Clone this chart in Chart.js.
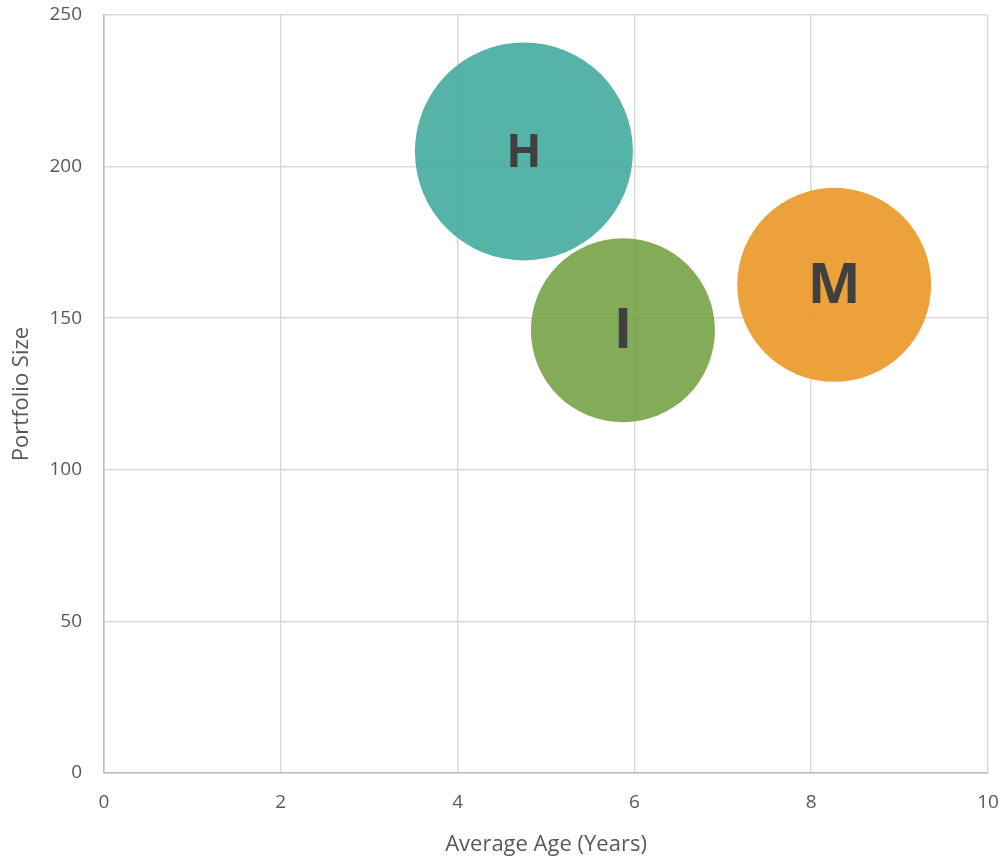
<!DOCTYPE html>
<html>
<head>
<meta charset="utf-8">
<title>Portfolio Size vs Average Age</title>
<script src="https://cdn.jsdelivr.net/npm/chart.js@4/dist/chart.umd.min.js"></script>
<style>
  html, body { margin: 0; padding: 0; background: #fff; }
  #wrap { width: 1004px; height: 858px; }
</style>
</head>
<body>
<div id="wrap"><canvas id="chart" width="1004" height="858"></canvas></div>
<script>
// portfolio groups
const names = ['H', 'I', 'M'];
const avgAge = [4.75, 5.87, 8.26];
const portfolioSize = [205, 146, 161];
const bubbleRadius = [109, 92, 97];
const colors = ['rgba(72,172,159,0.92)', 'rgba(121,164,74,0.92)', 'rgba(236,153,42,0.92)'];
const labelSizes = [46, 56, 56];

const xTicks = [0, 2, 4, 6, 8, 10];
const yTicks = [0, 50, 100, 150, 200, 250];

// write the group letter in the middle of each bubble
const bubbleLabels = {
    id: 'bubbleLabels',
    afterDatasetsDraw(chart) {
        const ctx = chart.ctx;
        chart.data.datasets.forEach((ds, i) => {
            const pt = chart.getDatasetMeta(i).data[0];
            ctx.save();
            ctx.fillStyle = '#404040';
            ctx.font = `bold ${labelSizes[i]}px "Open Sans", sans-serif`;
            ctx.textAlign = 'center';
            ctx.textBaseline = 'middle';
            ctx.fillText(names[i], pt.x, pt.y + 2);
            ctx.restore();
        });
    }
};

const datasets = names.map((n, i) => ({
    label: n,
    data: [{ x: avgAge[i], y: portfolioSize[i], r: bubbleRadius[i] }],
    backgroundColor: colors[i],
    borderWidth: 0,
    hoverRadius: 0,
    clip: false
}));

const tickFont = { family: '"Open Sans", sans-serif', size: 19 };
const titleFont = { family: '"Open Sans", sans-serif', size: 22 };

new Chart(document.getElementById('chart'), {
    type: 'bubble',
    data: { datasets: datasets },
    options: {
        responsive: false,
        animation: false,
        layout: { autoPadding: false, padding: { top: 15, right: 16, left: 0, bottom: 0 } },
        plugins: {
            legend: { display: false },
            tooltip: { enabled: false }
        },
        scales: {
            x: {
                type: 'linear',
                min: 0,
                max: 10,
                afterBuildTicks: axis => { axis.ticks = xTicks.map(v => ({ value: v })); },
                afterFit: axis => {
                    axis.height = 85;
                    axis.paddingLeft = 0;
                    axis.paddingRight = 0;
                },
                grid: { color: '#d9d9d9', lineWidth: 1.5, drawTicks: false },
                border: { color: '#bfbfbf', width: 1.5 },
                ticks: { color: '#595959', font: tickFont, padding: 18 },
                title: {
                    display: true,
                    text: 'Average Age (Years)',
                    color: '#595959',
                    font: titleFont,
                    padding: { top: 0, bottom: 0 }
                }
            },
            y: {
                type: 'linear',
                min: 0,
                max: 250,
                afterBuildTicks: axis => { axis.ticks = yTicks.map(v => ({ value: v })); },
                afterFit: axis => {
                    axis.width = 104;
                    axis.paddingTop = 0;
                    axis.paddingBottom = 0;
                },
                grid: { color: '#d9d9d9', lineWidth: 1.5, drawTicks: false },
                border: { color: '#bfbfbf', width: 1.5 },
                ticks: { color: '#595959', font: tickFont, padding: 22 },
                title: {
                    display: true,
                    text: 'Portfolio Size',
                    color: '#595959',
                    font: titleFont,
                    padding: { top: 9, bottom: 0 }
                }
            }
        }
    },
    plugins: [bubbleLabels]
});
</script>
</body>
</html>
